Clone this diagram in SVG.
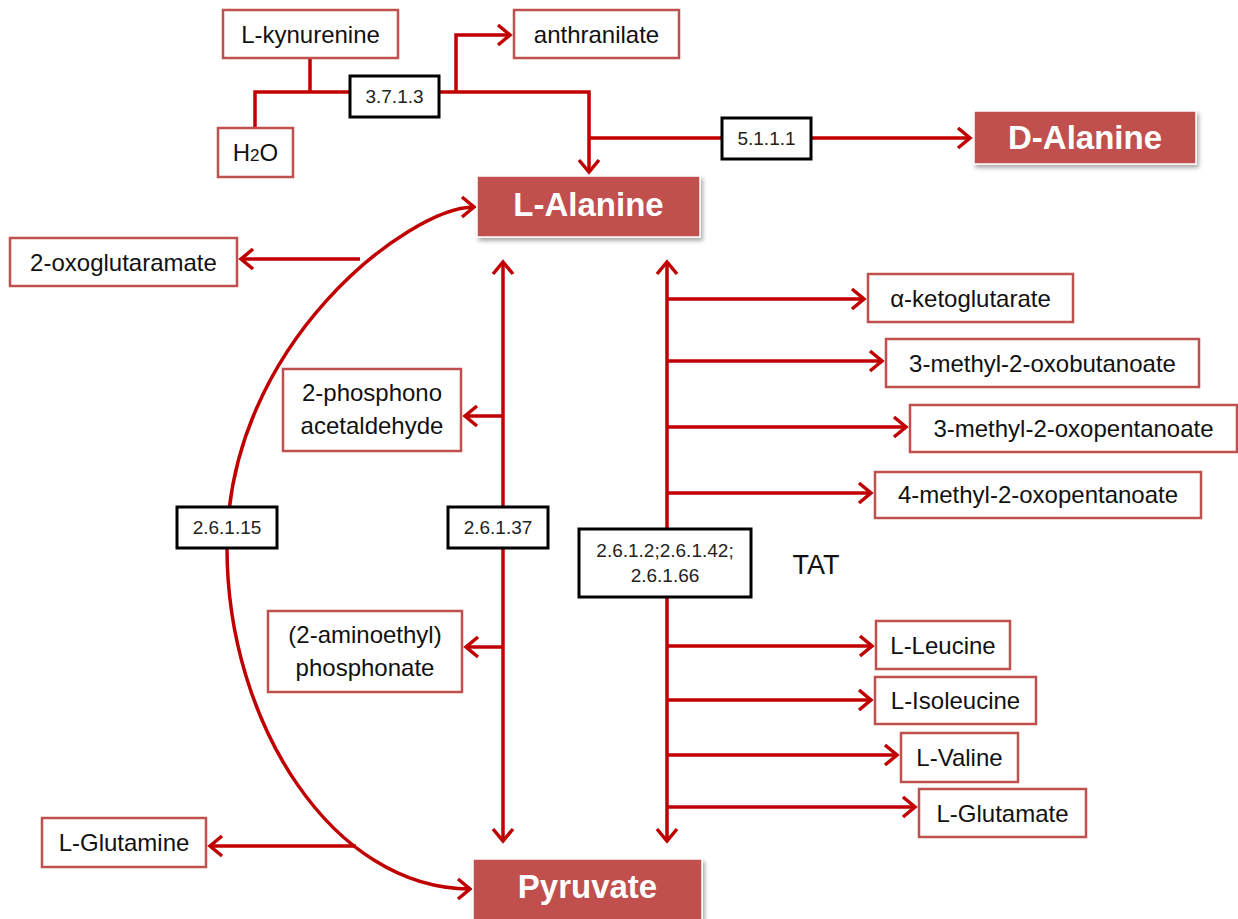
<svg xmlns="http://www.w3.org/2000/svg" width="1238" height="919" viewBox="0 0 1238 919">
<style>
.box{fill:#fff;stroke:#C0504D;stroke-width:2.5}
.enz{fill:#fff;stroke:#000;stroke-width:3}
.main{fill:#C0504D;stroke:#fff;stroke-width:1.5;filter:url(#sh)}
.t{font-family:"Liberation Sans",Arial,sans-serif;font-size:24px;fill:#111;text-anchor:middle}
.e{font-family:"Liberation Sans",Arial,sans-serif;font-size:19px;fill:#222;text-anchor:middle}
.m{font-family:"Liberation Sans",Arial,sans-serif;font-size:33px;font-weight:bold;fill:#fff;text-anchor:middle}
.c{fill:none;stroke:#C00000;stroke-width:3.5}
.a{marker-end:url(#ah)}
.b{marker-start:url(#ah);marker-end:url(#ah)}
</style>
<defs>
<filter id="sh" x="-10%" y="-20%" width="130%" height="150%">
<feDropShadow dx="2" dy="3" stdDeviation="2" flood-color="#000" flood-opacity="0.35"/>
</filter>
<marker id="ah" markerUnits="userSpaceOnUse" markerWidth="40" markerHeight="40" viewBox="-20 -20 40 40" refX="0" refY="0" orient="auto-start-reverse" overflow="visible">
<path d="M-12,-10 L0,0 L-12,10" fill="none" stroke="#C00000" stroke-width="3.5" stroke-linejoin="miter"/>
</marker>
</defs>

<g id="connectors">
<path class="c" d="M310,58 V92"/>
<path class="c" d="M255,128 V92 H350"/>
<path class="c a" d="M439,92 H589 V172"/>
<path class="c a" d="M456,92 V35 H510"/>
<path class="c" d="M589,138 H722"/>
<path class="c a" d="M811,138 H970"/>
<path class="c b" d="M474,207 C410,207 227,343 227,548 C227,723 333,889 470,889"/>
<path class="c a" d="M360,259 H241"/>
<path class="c a" d="M356,846 H210"/>
<path class="c b" d="M503,262 V841"/>
<path class="c a" d="M503,416 H465"/>
<path class="c a" d="M503,647 H466"/>
<path class="c b" d="M667,262 V841"/>
<path class="c a" d="M667,299 H864"/>
<path class="c a" d="M667,361 H882"/>
<path class="c a" d="M667,427 H906"/>
<path class="c a" d="M667,493 H871"/>
<path class="c a" d="M667,646 H872"/>
<path class="c a" d="M667,700 H871"/>
<path class="c a" d="M667,755 H897"/>
<path class="c a" d="M667,807 H915"/>
</g>

<g id="L-kynurenine"><rect class="box" x="223" y="10" width="175" height="48"/><text class="t" x="310.5" y="43">L-kynurenine</text></g>
<g id="anthranilate"><rect class="box" x="514" y="10" width="165" height="48"/><text class="t" x="596.5" y="43">anthranilate</text></g>
<g id="H2O"><rect class="box" x="218" y="128" width="75" height="49"/><text class="t" x="255.5" y="161">H<tspan font-size="17">2</tspan>O</text></g>
<g id="e3.7.1.3"><rect class="enz" x="350" y="76" width="89" height="41"/><text class="e" x="394.5" y="103">3.7.1.3</text></g>
<g id="e5.1.1.1"><rect class="enz" x="722" y="118" width="89" height="41"/><text class="e" x="766.5" y="145">5.1.1.1</text></g>
<g id="D-Alanine"><rect class="main" x="974" y="111" width="222" height="53"/><text class="m" x="1085" y="149">D-Alanine</text></g>
<g id="L-Alanine"><rect class="main" x="477" y="176" width="223" height="61"/><text class="m" x="588.5" y="216">L-Alanine</text></g>
<g id="2-oxoglutaramate"><rect class="box" x="10" y="238" width="227" height="48"/><text class="t" x="123.5" y="271">2-oxoglutaramate</text></g>
<g id="2-phosphonoacetaldehyde"><rect class="box" x="283" y="369" width="178" height="82"/><text class="t" x="372" y="401">2-phosphono</text><text class="t" x="372" y="434">acetaldehyde</text></g>
<g id="a-ketoglutarate"><rect class="box" x="868" y="274" width="205" height="48"/><text class="t" x="970.5" y="307">α-ketoglutarate</text></g>
<g id="3-methyl-2-oxobutanoate"><rect class="box" x="886" y="339" width="313" height="48"/><text class="t" x="1042.5" y="372">3-methyl-2-oxobutanoate</text></g>
<g id="3-methyl-2-oxopentanoate"><rect class="box" x="910" y="405" width="327" height="47"/><text class="t" x="1073.5" y="437">3-methyl-2-oxopentanoate</text></g>
<g id="4-methyl-2-oxopentanoate"><rect class="box" x="875" y="472" width="326" height="46"/><text class="t" x="1038" y="503">4-methyl-2-oxopentanoate</text></g>
<g id="e2.6.1.15"><rect class="enz" x="177" y="507" width="100" height="41"/><text class="e" x="227" y="534">2.6.1.15</text></g>
<g id="e2.6.1.37"><rect class="enz" x="448" y="507" width="100" height="41"/><text class="e" x="498" y="534">2.6.1.37</text></g>
<g id="e2.6.1.2"><rect class="enz" x="579" y="529" width="172" height="68"/><text class="e" x="665" y="557">2.6.1.2;2.6.1.42;</text><text class="e" x="665" y="582">2.6.1.66</text></g>
<g id="TAT"><text class="t" x="816" y="574" style="font-size:27px">TAT</text></g>
<g id="aminoethylphosphonate"><rect class="box" x="268" y="611" width="194" height="81"/><text class="t" x="365" y="643">(2-aminoethyl)</text><text class="t" x="365" y="676">phosphonate</text></g>
<g id="L-Leucine"><rect class="box" x="876" y="621" width="134" height="48"/><text class="t" x="943" y="654">L-Leucine</text></g>
<g id="L-Isoleucine"><rect class="box" x="875" y="677" width="161" height="47"/><text class="t" x="955.5" y="709">L-Isoleucine</text></g>
<g id="L-Valine"><rect class="box" x="901" y="733" width="117" height="49"/><text class="t" x="959.5" y="766">L-Valine</text></g>
<g id="L-Glutamate"><rect class="box" x="919" y="789" width="167" height="48"/><text class="t" x="1002.5" y="822">L-Glutamate</text></g>
<g id="L-Glutamine"><rect class="box" x="42" y="818" width="164" height="49"/><text class="t" x="124" y="851">L-Glutamine</text></g>
<g id="Pyruvate"><rect class="main" x="473" y="859" width="229" height="70"/><text class="m" x="587.5" y="898">Pyruvate</text></g>
</svg>
